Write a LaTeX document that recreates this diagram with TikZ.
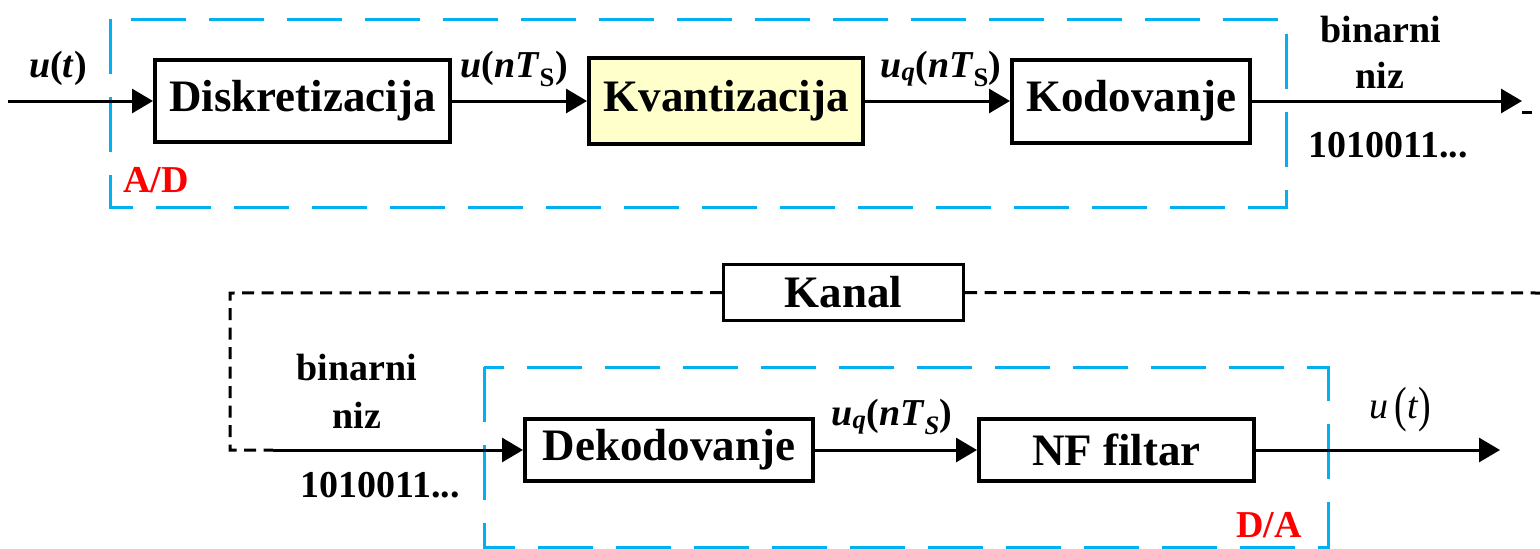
\documentclass[tikz,border=0pt]{standalone}
\usepackage{fontspec}
\setmainfont{Liberation Serif}
\usetikzlibrary{arrows.meta}
\definecolor{frameblue}{RGB}{0,176,240}
\definecolor{boxyellow}{RGB}{255,255,204}
\begin{document}
\begin{tikzpicture}[x=1pt,y=-1pt,
  block/.style={draw, line width=4pt, inner sep=0pt,
    font=\fontsize{45}{50}\selectfont\bfseries},
  lbl/.style={font=\fontsize{38}{42}\selectfont\bfseries, inner sep=0pt, anchor=base},
  sig/.style={line width=3pt, -{Triangle[length=21pt,width=24pt]}},
  wire/.style={line width=3pt},
  frame/.style={draw=frameblue, line width=3pt, dash pattern=on 55pt off 23pt},
  chan/.style={line width=3pt, dash pattern=on 12pt off 7.5pt}]
\useasboundingbox (0,0) rectangle (1540,549);

% ---------- A/D converter ----------
\draw[frame] (110,19) rectangle (1286,207);
\node[block, minimum width=295pt, minimum height=82pt] (disk) at (302.5,101) {Diskretizacija};
\node[block, fill=boxyellow, minimum width=274pt, minimum height=86pt] (kvant) at (726,101) {Kvantizacija};
\node[block, minimum width=238pt, minimum height=83pt] (kod) at (1131,101) {Kodovanje};
\coordinate (in) at (8,101);
\coordinate (out) at (1522,101);
\draw[sig] (in) -- (disk.west);
\draw[sig] (disk.east) -- (kvant.west);
\draw[sig] (kvant.east) -- (kod.west);
\draw[sig] (kod.east) -- (out);
\coordinate (tickA) at (1522,112);
\coordinate (tickB) at (1532,112);
\draw[wire] (tickA) -- (tickB);

\node[lbl] (ut) at (58,77) {\textit{u}(\textit{t})};
\node[lbl] (unts) at (514,77) {\textit{u}(\textit{nT}\textsubscript{S})};
\node[lbl] (uq1) at (941,77) {\textit{u}\textsubscript{\textit{q}}(\textit{nT}\textsubscript{S})};
\node[lbl] (bin1) at (1381,42) {binarni};
\node[lbl] (niz1) at (1380,88) {niz};
\node[lbl] (seq1) at (1388,157) {1010011...};
\node[lbl, anchor=base west, text=red] (ad) at (123,192) {A/D};

% ---------- channel ----------
\node[block, line width=3pt, minimum width=240pt, minimum height=56pt] (kanal) at (843.5,292.5) {Kanal};
\coordinate (cR) at (1540,293);
\coordinate (cL) at (230,293);
\coordinate (cB) at (230,450);
\coordinate (sStart) at (273,450);
\draw[chan] (kanal.east) -- (cR);
\draw[chan] (kanal.west) -- (cL) -- (cB) -- (sStart);

% ---------- D/A converter ----------
\draw[frame] (484,367) rectangle (1328,547);
\node[block, minimum width=288pt, minimum height=62pt] (dek) at (669,450) {Dekodovanje};
\node[block, minimum width=275pt, minimum height=62pt] (nf) at (1116.5,450) {NF filtar};
\coordinate (out2) at (1500,450);
\draw[sig] (sStart) -- (dek.west);
\draw[sig] (dek.east) -- (nf.west);
\draw[sig] (nf.east) -- (out2);

\node[lbl] (bin2) at (357,380) {binarni};
\node[lbl] (niz2) at (357,428) {niz};
\node[lbl] (seq2) at (380,497) {1010011...};
\node[lbl] (uq2) at (892,425) {\textit{u}\textsubscript{\textit{q}}(\textit{nT}\textsubscript{\textit{S}})};
\node[lbl, font=\fontsize{38}{42}\selectfont\mdseries] (ut2) at (1400,418)
  {\textit{u}\,\raisebox{-3pt}{\scalebox{1}[1.3]{(}}\textit{t}\raisebox{-3pt}{\scalebox{1}[1.3]{)}}};
\node[lbl, anchor=base east, text=red] (da) at (1302,537) {D/A};
\end{tikzpicture}
\end{document}
